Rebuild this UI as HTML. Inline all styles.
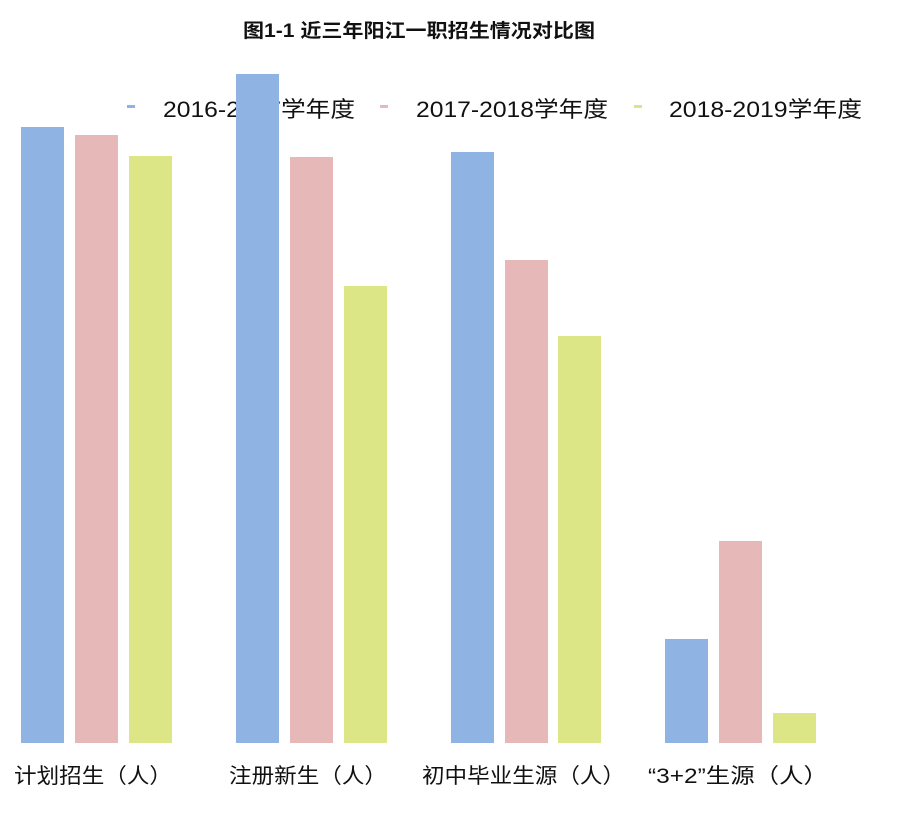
<!DOCTYPE html>
<html><head><meta charset="utf-8"><style>body{margin:0;background:#fff}</style></head><body>
<svg width="904" height="825" xmlns="http://www.w3.org/2000/svg" style="display:block">
<text x="243" y="37" textLength="352" lengthAdjust="spacingAndGlyphs" font-family="'Liberation Sans','Noto Sans CJK SC',sans-serif" font-size="19" font-weight="bold" fill="#111">图1-1  近三年阳江一职招生情况对比图</text>
<g font-family="'Liberation Sans','Noto Sans CJK SC',sans-serif" font-size="22" fill="#111">
<rect x="127" y="105" width="8" height="3" fill="#8fb4e3"/>
<text x="163" y="117" textLength="192" lengthAdjust="spacingAndGlyphs">2016-2017学年度</text>
<rect x="380" y="105" width="8" height="3" fill="#e6b9b8"/>
<text x="416" y="117" textLength="192" lengthAdjust="spacingAndGlyphs">2017-2018学年度</text>
<rect x="634" y="105" width="8" height="3" fill="#d9e486"/>
<text x="669" y="117" textLength="193" lengthAdjust="spacingAndGlyphs">2018-2019学年度</text>
</g>
<g>
<rect x="21" y="127" width="43" height="616" fill="#8fb4e3"/>
<rect x="75" y="135" width="43" height="608" fill="#e6b9b8"/>
<rect x="129" y="156" width="43" height="587" fill="#dce686"/>
<rect x="236" y="74" width="43" height="669" fill="#8fb4e3"/>
<rect x="290" y="157" width="43" height="586" fill="#e6b9b8"/>
<rect x="344" y="286" width="43" height="457" fill="#dce686"/>
<rect x="451" y="152" width="43" height="591" fill="#8fb4e3"/>
<rect x="505" y="260" width="43" height="483" fill="#e6b9b8"/>
<rect x="558" y="336" width="43" height="407" fill="#dce686"/>
<rect x="665" y="639" width="43" height="104" fill="#8fb4e3"/>
<rect x="719" y="541" width="43" height="202" fill="#e6b9b8"/>
<rect x="773" y="713" width="43" height="30" fill="#dce686"/>
</g>
<g font-family="'Liberation Sans','Noto Sans CJK SC',sans-serif" font-size="21" fill="#111">
<text x="14" y="783" textLength="158" lengthAdjust="spacingAndGlyphs">计划招生（人）</text>
<text x="229" y="783" textLength="158" lengthAdjust="spacingAndGlyphs">注册新生（人）</text>
<text x="422" y="783" textLength="203" lengthAdjust="spacingAndGlyphs">初中毕业生源（人）</text>
<text x="648" y="783" textLength="180" lengthAdjust="spacingAndGlyphs">“3+2”生源（人）</text>
</g>
</svg>
</body></html>
